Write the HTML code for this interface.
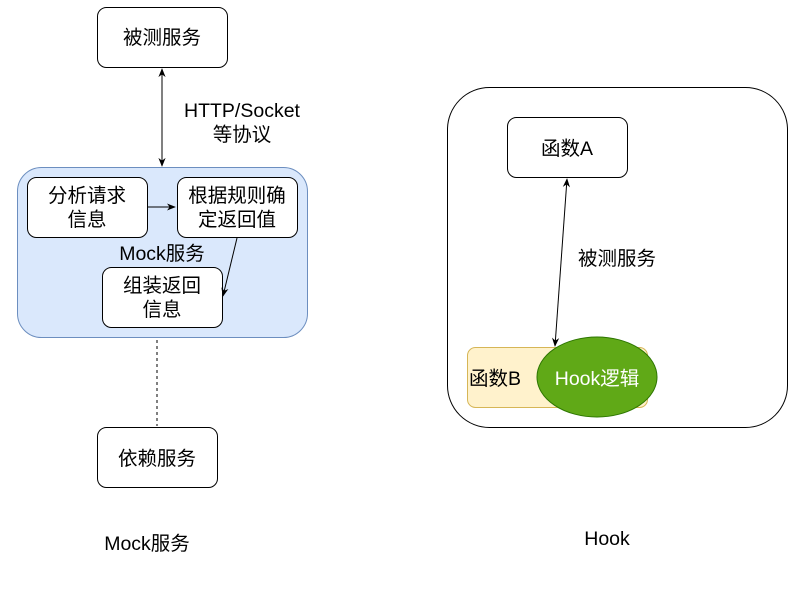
<!DOCTYPE html>
<html><head><meta charset="utf-8"><style>
html,body{margin:0;padding:0;background:#fff;}
text{font-family:"Liberation Sans","Noto Sans CJK SC",sans-serif;font-size:19.5px;fill:#000;}
</style></head><body>
<svg width="801" height="589" viewBox="0 0 801 589" xmlns="http://www.w3.org/2000/svg">
<defs>
<marker id="a" viewBox="0 0 10 10" refX="9" refY="5" markerWidth="9" markerHeight="9" markerUnits="userSpaceOnUse" orient="auto-start-reverse"><path d="M0,1 L10,5 L0,9 L3,5 Z" fill="#000"/></marker>
</defs>
<rect x="97.5" y="7.5" width="130" height="60" rx="9" fill="#fff" stroke="#000"/>
<text x="162" y="44" text-anchor="middle">被测服务</text>
<line x1="162" y1="69" x2="162" y2="166" stroke="#000" marker-start="url(#a)" marker-end="url(#a)"/>
<text x="242" y="117" text-anchor="middle">HTTP/Socket</text>
<text x="242" y="141" text-anchor="middle">等协议</text>
<rect x="17.5" y="167.5" width="290" height="170" rx="24" fill="#dae8fc" stroke="#6c8ebf"/>
<rect x="27.5" y="177.5" width="120" height="60" rx="9" fill="#fff" stroke="#000"/>
<text x="87" y="202" text-anchor="middle">分析请求</text>
<text x="87" y="226" text-anchor="middle">信息</text>
<rect x="177.5" y="177.5" width="120" height="60" rx="9" fill="#fff" stroke="#000"/>
<text x="237" y="202" text-anchor="middle">根据规则确</text>
<text x="237" y="226" text-anchor="middle">定返回值</text>
<line x1="148" y1="207" x2="175" y2="207" stroke="#000" marker-end="url(#a)"/>
<text x="162" y="260" text-anchor="middle">Mock服务</text>
<rect x="102.5" y="267.5" width="120" height="60" rx="9" fill="#fff" stroke="#000"/>
<text x="162" y="292" text-anchor="middle">组装返回</text>
<text x="162" y="316" text-anchor="middle">信息</text>
<line x1="237" y1="238" x2="223" y2="296" stroke="#000" marker-end="url(#a)"/>
<line x1="157" y1="340" x2="157" y2="426" stroke="#000" stroke-dasharray="3,3"/>
<rect x="97.5" y="427.5" width="120" height="60" rx="9" fill="#fff" stroke="#000"/>
<text x="157" y="465" text-anchor="middle">依赖服务</text>
<text x="147" y="550" text-anchor="middle">Mock服务</text>
<rect x="447.5" y="87.5" width="340" height="340" rx="42" fill="#fff" stroke="#000"/>
<rect x="507.5" y="117.5" width="120" height="60" rx="9" fill="#fff" stroke="#000"/>
<text x="567" y="155" text-anchor="middle">函数A</text>
<rect x="467.5" y="347.5" width="180" height="60" rx="8" fill="#fff2cc" stroke="#d6b656"/>
<text x="469" y="385">函数B</text>
<ellipse cx="597" cy="377" rx="60" ry="40" fill="#60a917" stroke="#2d7600"/>
<text x="597" y="385" text-anchor="middle" style="fill:#fff">Hook逻辑</text>
<line x1="567" y1="179" x2="555" y2="346" stroke="#000" marker-start="url(#a)" marker-end="url(#a)"/>
<text x="617" y="265" text-anchor="middle">被测服务</text>
<text x="607" y="545" text-anchor="middle">Hook</text>
</svg>
</body></html>
